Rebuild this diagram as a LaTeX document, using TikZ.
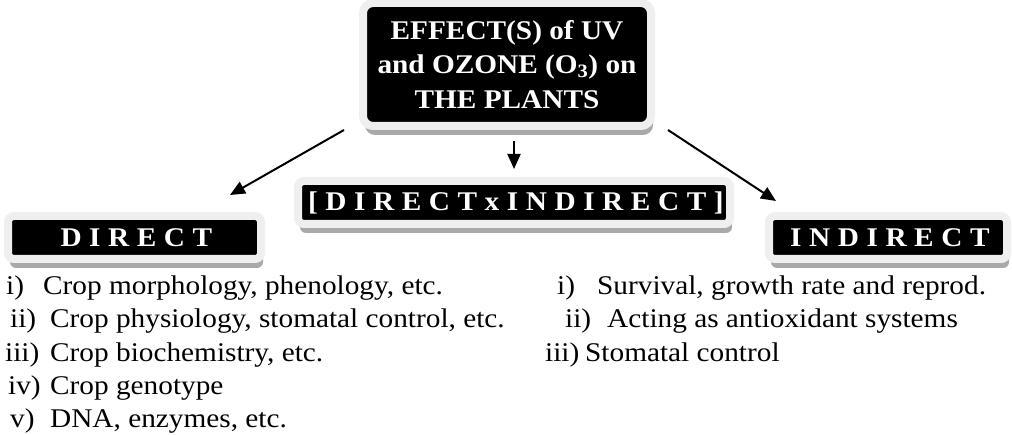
\documentclass[tikz,border=0pt]{standalone}
\usepackage{fontspec}
\setmainfont{Liberation Serif}[FakeStretch=1.085]
\usetikzlibrary{arrows.meta,shadows}
\definecolor{BandGray}{HTML}{EFEFEF}
\definecolor{ShadeGray}{HTML}{A9A9A9}
\newcommand{\numlab}[2]{\makebox[#1pt][l]{#2}}
\tikzset{
  darkbox/.style={fill=black,draw=BandGray,line width=8pt,rounded corners=10pt,
    text=white,align=center,inner sep=0pt,
    font=\fontsize{27}{34.5}\selectfont\bfseries,
    drop shadow={shadow xshift=2pt,shadow yshift=-9pt,fill=ShadeGray,opacity=1}},
  tagbox/.style={darkbox,rounded corners=6pt,
    font=\fontsize{27}{30}\selectfont\bfseries\addfontfeatures{LetterSpace=28}},
  listtext/.style={anchor=base west,inner sep=0pt,font=\fontsize{27}{33}\selectfont},
  flow/.style={-{Triangle[length=15pt,width=13pt]},line width=2pt}
}

\begin{document}
\begin{tikzpicture}[x=1pt,y=-1pt]
  \useasboundingbox (0,0) rectangle (1012,435);
  % boxes
  \node[darkbox,minimum width=288pt,minimum height=123pt] (title) at (507,64.5)
    {\raisebox{-4pt}{\parbox{280pt}{\centering EFFECT(S) of UV\\and OZONE (O\textsubscript{3}) on\\THE PLANTS}}};
  \node[tagbox,minimum width=432pt,minimum height=43pt] (mid) at (514,202.5)
    {\kern3.8pt[DIRECTxINDIRECT]};
  \node[tagbox,minimum width=253pt,minimum height=43pt] (direct) at (134.5,237.5)
    {\kern3.8pt DIRECT};
  \node[tagbox,minimum width=238pt,minimum height=43pt] (indirect) at (888,237.5)
    {\kern3.8pt INDIRECT};
  % arrows
  \coordinate (dirtip) at (230,195);
  \coordinate (indtip) at (776,201);
  \draw[flow] ([xshift=-15pt]title.south west) -- (dirtip);
  \draw[flow] ([yshift=-11pt]title.south -| mid.north) -- ([yshift=8pt]mid.north);
  \draw[flow] ([xshift=13pt]title.south east) -- (indtip);
  % direct effects
  \node[listtext] (l1) at (6,295) {\numlab{37}{i)}Crop morphology, phenology, etc.};
  \node[listtext] (l2) at (10,328) {\numlab{40}{ii)}Crop physiology, stomatal control, etc.};
  \node[listtext] (l3) at (5,362) {\numlab{45}{iii)}Crop biochemistry, etc.};
  \node[listtext] (l4) at (8,395) {\numlab{42}{iv)}Crop genotype};
  \node[listtext] (l5) at (10,428) {\numlab{40}{v)}DNA, enzymes, etc.};
  % indirect effects
  \node[listtext] (r1) at (557,295) {\numlab{40}{i)}Survival, growth rate and reprod.};
  \node[listtext] (r2) at (565,328) {\numlab{42}{ii)}Acting as antioxidant systems};
  \node[listtext] (r3) at (545,362) {\numlab{40}{iii)}Stomatal control};
\end{tikzpicture}
\end{document}
